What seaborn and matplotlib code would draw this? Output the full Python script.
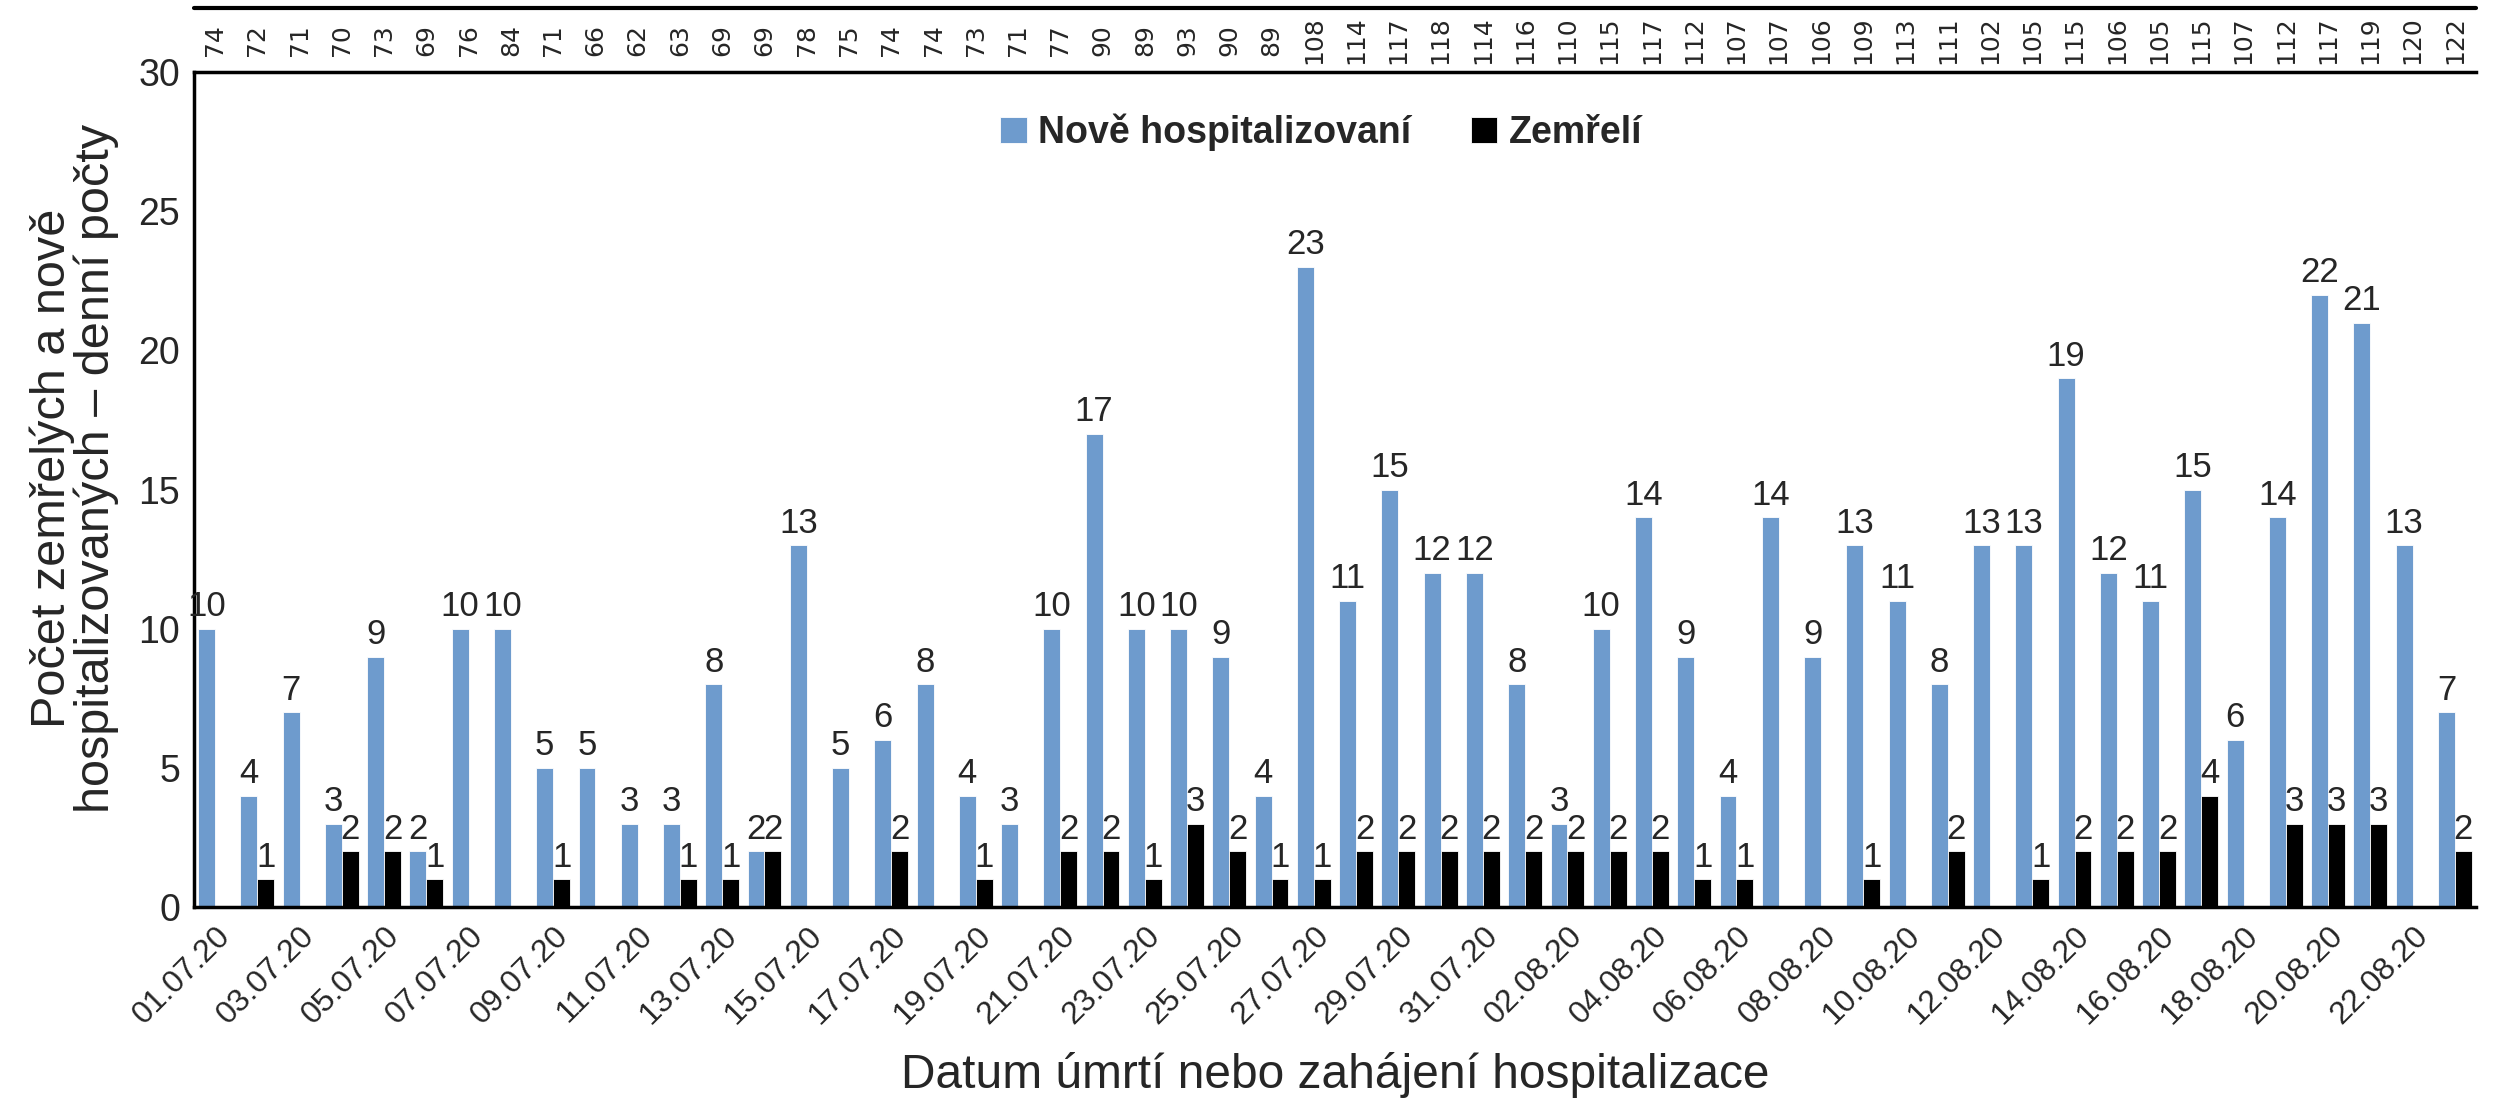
import numpy as np
import pandas as pd
import seaborn as sns
import matplotlib.pyplot as plt

# --- data ---
dates = pd.date_range("2020-07-01", "2020-08-23").strftime("%d.%m.%y").tolist()

hospitalized = [10, 4, 7, 3, 9, 2, 10, 10, 5, 5, 3, 3, 8, 2, 13, 5, 6, 8, 4, 3,
                10, 17, 10, 10, 9, 4, 23, 11, 15, 12, 12, 8, 3, 10, 14, 9, 4, 14,
                9, 13, 11, 8, 13, 13, 19, 12, 11, 15, 6, 14, 22, 21, 13, 7]
deaths = [0, 1, 0, 2, 2, 1, 0, 0, 1, 0, 0, 1, 1, 2, 0, 0, 2, 0, 1, 0,
          2, 2, 1, 3, 2, 1, 1, 2, 2, 2, 2, 2, 2, 2, 2, 1, 1, 0,
          0, 1, 0, 2, 0, 1, 2, 2, 2, 4, 0, 3, 3, 3, 0, 2]
# numbers in the band above the plot
top_row = [74, 72, 71, 70, 73, 69, 76, 84, 71, 66, 62, 63, 69, 69, 78, 75, 74, 74,
           73, 71, 77, 90, 89, 93, 90, 89, 108, 114, 117, 118, 114, 116, 110, 115,
           117, 112, 107, 107, 106, 109, 113, 111, 102, 105, 115, 106, 105, 115,
           107, 112, 117, 119, 120, 122]

series_names = ["Nově hospitalizovaní", "Zemřelí"]
colors = ["#6e9bcd", "#000000"]

df = pd.DataFrame({
    "datum": dates * 2,
    "pocet": hospitalized + deaths,
    "serie": [series_names[0]] * len(dates) + [series_names[1]] * len(dates),
})

sns.set_style("white")
plt.rcParams["font.family"] = ["Liberation Sans", "DejaVu Sans"]

fig = plt.figure(figsize=(24.96, 11.17), dpi=100)
ax = fig.add_axes([0.0777, 0.188, 0.9143, 0.7475])

sns.barplot(data=df, x="datum", y="pocet", hue="serie", order=dates,
            hue_order=series_names, palette=colors, saturation=1, width=0.8,
            edgecolor="white", linewidth=0.6, ax=ax)

# data labels, zeros are not shown
for cont, vals in zip(ax.containers, [hospitalized, deaths]):
    ax.bar_label(cont, labels=[str(v) if v else "" for v in vals],
                 padding=4, fontsize=25)

ax.set_ylim(0, 30)
ax.set_xlim(-0.5, len(dates) - 0.5)
ax.set_yticks(range(0, 31, 5))
ax.tick_params(axis="y", labelsize=27, length=0, pad=10)
ax.set_xticks(range(0, len(dates), 2))
ax.set_xticklabels(dates[::2], rotation=45, ha="right",
                   rotation_mode="anchor", fontsize=23)
ax.tick_params(axis="x", length=0, pad=10)

ax.set_xlabel("Datum úmrtí nebo zahájení hospitalizace", fontsize=34.5, labelpad=16)
ax.set_ylabel("Počet zemřelých a nově\nhospitalizovaných – denní počty",
              fontsize=35, linespacing=0.95)
ax.yaxis.set_label_coords(-0.033, 0.525)

for side in ["left", "bottom", "top"]:
    ax.spines[side].set_color("black")
    ax.spines[side].set_linewidth(2.5)
ax.spines["right"].set_visible(False)

# band with numbers above the plot
band_top = 1.0766
ax.plot([0, 1], [band_top, band_top], transform=ax.transAxes,
        color="black", lw=3, clip_on=False)
trans = ax.get_xaxis_transform()
for i, v in enumerate(top_row):
    ax.text(i, 1.038, str(v), transform=trans, rotation=90, ha="center",
            va="center", fontsize=18, family="DejaVu Sans")

# legend
ax.legend(loc="center", bbox_to_anchor=(0.494, 0.928), ncol=2,
          frameon=False, handlelength=0.7, handleheight=0.7,
          handletextpad=0.3, columnspacing=1.6,
          prop={"weight": "bold", "size": 27})

fig.savefig("out.png", dpi=100)
